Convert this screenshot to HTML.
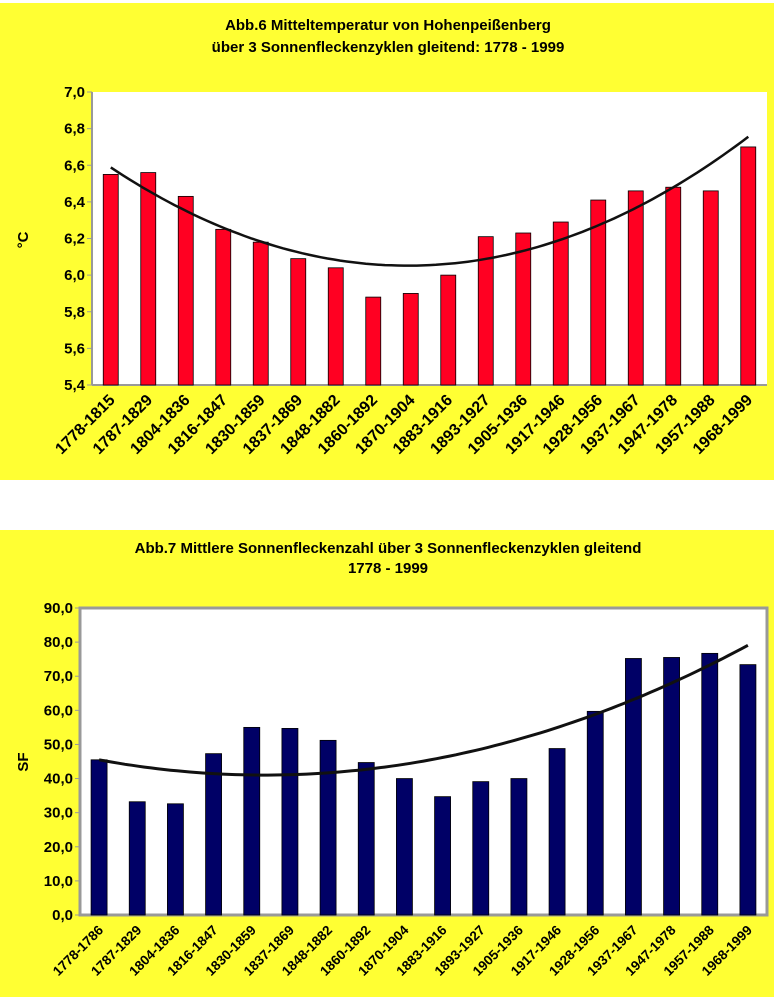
<!DOCTYPE html>
<html><head><meta charset="utf-8"><style>
body{margin:0;background:#fff;}
svg{display:block;font-family:"Liberation Sans",Arial,sans-serif;font-weight:bold;}
</style></head><body>
<svg id="s" width="774" height="1002" xmlns="http://www.w3.org/2000/svg">
<rect x="0" y="3" width="774" height="477" fill="#ffff33"/>
<rect x="0" y="530" width="774" height="467" fill="#ffff33"/>
<text x="388" y="30" text-anchor="middle" font-size="15">Abb.6 Mitteltemperatur von Hohenpeißenberg</text>
<text x="388" y="52" text-anchor="middle" font-size="15">über 3 Sonnenfleckenzyklen gleitend: 1778 - 1999</text>
<text x="388" y="553" text-anchor="middle" font-size="15">Abb.7 Mittlere Sonnenfleckenzahl über 3 Sonnenfleckenzyklen gleitend</text>
<text x="388" y="573" text-anchor="middle" font-size="15">1778 - 1999</text>
<text transform="translate(28,240) rotate(-90)" text-anchor="middle" font-size="15">°C</text>
<text transform="translate(28,762) rotate(-90)" text-anchor="middle" font-size="15">SF</text>
<g id="c1"></g><g id="c2"></g>
</svg>
<script>
const tempCats=["1778-1815","1787-1829","1804-1836","1816-1847","1830-1859","1837-1869","1848-1882","1860-1892","1870-1904","1883-1916","1893-1927","1905-1936","1917-1946","1928-1956","1937-1967","1947-1978","1957-1988","1968-1999"];
const tempValues=[6.55,6.56,6.43,6.25,6.18,6.09,6.04,5.88,5.90,6.00,6.21,6.23,6.29,6.41,6.46,6.48,6.46,6.70];
const tempTicks=["5,4","5,6","5,8","6,0","6,2","6,4","6,6","6,8","7,0"];
const tempTickValues=[5.4,5.6,5.8,6.0,6.2,6.4,6.6,6.8,7.0];
const sfCats=["1778-1786","1787-1829","1804-1836","1816-1847","1830-1859","1837-1869","1848-1882","1860-1892","1870-1904","1883-1916","1893-1927","1905-1936","1917-1946","1928-1956","1937-1967","1947-1978","1957-1988","1968-1999"];
const sfValues=[45.5,33.2,32.6,47.3,55.0,54.7,51.2,44.7,40.0,34.7,39.1,40.0,48.8,59.7,75.2,75.5,76.7,73.4];
const sfTicks=["0,0","10,0","20,0","30,0","40,0","50,0","60,0","70,0","80,0","90,0"];
const sfTickValues=[0,10,20,30,40,50,60,70,80,90];
const NS="http://www.w3.org/2000/svg";
function mk(p,t,a){const e=document.createElementNS(NS,t);for(const k in a)e.setAttribute(k,a[k]);p.appendChild(e);return e;}
function fit(v){const n=v.length;let S=[0,0,0,0,0],T=[0,0,0];
 for(let i=0;i<n;i++){for(let k=0;k<5;k++)S[k]+=Math.pow(i,k);for(let k=0;k<3;k++)T[k]+=v[i]*Math.pow(i,k);}
 const M=[[S[0],S[1],S[2],T[0]],[S[1],S[2],S[3],T[1]],[S[2],S[3],S[4],T[2]]];
 for(let c=0;c<3;c++){for(let r=0;r<3;r++){if(r===c)continue;const f=M[r][c]/M[c][c];for(let k=0;k<4;k++)M[r][k]-=f*M[c][k];}}
 return [M[0][3]/M[0][0],M[1][3]/M[1][1],M[2][3]/M[2][2]];}
function chart(g,o){
 const {cats,vals,ticks,tickVals,L,R,T,B,min,max,color,bw,border,pre}=o;
 const y=v=>B-(v-min)/(max-min)*(B-T);
 const step=(R-L)/cats.length;const x=i=>L+step*(i+0.5);
 let r=mk(g,'rect',{x:L,y:T,width:R-L,height:B-T,fill:'#fff',stroke:border?'#999':'none','stroke-width':border?3:0});
 
 
 let ax=mk(g,'line',{x1:L,y1:T,x2:L,y2:B,stroke:'#999','stroke-width':2});
 
 
 let bx=mk(g,'line',{x1:L,y1:B,x2:R,y2:B,stroke:'#999','stroke-width':2});
 
 
 tickVals.forEach((tv,i)=>{
  mk(g,'line',{x1:L-5,y1:y(tv),x2:L,y2:y(tv),stroke:'#999','stroke-width':1});
  let t=mk(g,'text',{x:L-7,y:y(tv)+5,'text-anchor':'end','font-size':15});t.textContent=ticks[i];
  
  
 });
 vals.forEach((v,i)=>{
  let b=mk(g,'rect',{x:x(i)-bw/2,y:y(v),width:bw,height:B-y(v),fill:color,stroke:'#000','stroke-width':0.8});
  
  
  let t=mk(g,'text',{transform:`translate(${x(i)+5},${B+16}) rotate(-45)`,'text-anchor':'end','font-size':o.fs});
  t.textContent=cats[i];
  
  
 });
 const c=fit(vals);let d='';
 for(let s=0;s<=100;s++){const i=s/100*(vals.length-1);const v=c[0]+c[1]*i+c[2]*i*i;d+=(s?'L':'M')+x(i).toFixed(1)+','+y(v).toFixed(1);}
 let p=mk(g,'path',{d:d,fill:'none',stroke:'#111','stroke-width':o.lw});
 
 
}
chart(document.getElementById('c1'),{cats:tempCats,vals:tempValues,ticks:tempTicks,tickVals:tempTickValues,L:92,R:767,T:92,B:385,min:5.4,max:7.0,color:'#ff0022',bw:15,border:false,pre:'temp',fs:16,lw:2.5});
chart(document.getElementById('c2'),{cats:sfCats,vals:sfValues,ticks:sfTicks,tickVals:sfTickValues,L:80,R:767,T:608,B:915,min:0,max:90,color:'#000066',bw:16,border:true,pre:'sunspot',fs:13.5,lw:3});
</script>
</body></html>
